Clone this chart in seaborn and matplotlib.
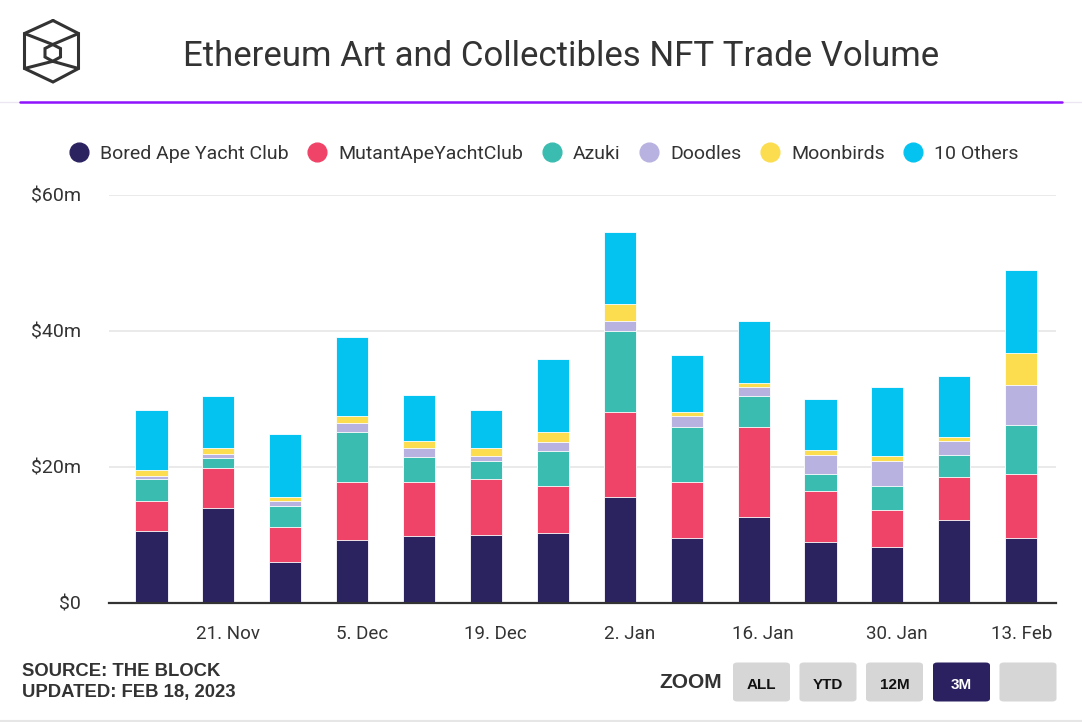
import matplotlib
matplotlib.use("Agg")
import matplotlib.pyplot as plt
from matplotlib.lines import Line2D
from matplotlib.patches import FancyBboxPatch
from matplotlib.transforms import ScaledTranslation
import seaborn as sns
import pandas as pd
import numpy as np

# ---------------- data ----------------
weeks = ["2022-11-13", "2022-11-20", "2022-11-27", "2022-12-04", "2022-12-11",
         "2022-12-18", "2022-12-25", "2023-01-01", "2023-01-08", "2023-01-15",
         "2023-01-22", "2023-01-29", "2023-02-05", "2023-02-12"]
series_names = ["Bored Ape Yacht Club", "MutantApeYachtClub", "Azuki",
                "Doodles", "Moonbirds", "10 Others"]
bayc      = [10.5, 14.0, 6.0, 9.2, 9.8, 10.0, 10.25, 15.5, 9.5, 12.65, 8.9, 8.15, 12.1, 9.5]
mayc      = [4.5, 5.8, 5.1, 8.5, 7.9, 8.2, 6.9, 12.5, 8.2, 13.25, 7.5, 5.55, 6.4, 9.5]
azuki     = [3.2, 1.5, 3.1, 7.4, 3.7, 2.6, 5.2, 11.9, 8.2, 4.45, 2.6, 3.4, 3.2, 7.1]
doodles   = [0.5, 0.6, 0.8, 1.3, 1.3, 0.8, 1.3, 1.6, 1.6, 1.35, 2.7, 3.7, 2.1, 5.9]
moonbirds = [0.8, 0.8, 0.5, 1.1, 1.1, 1.1, 1.4, 2.4, 0.5, 0.6, 0.8, 0.8, 0.5, 4.7]
others    = [8.8, 7.7, 9.3, 11.6, 6.8, 5.6, 10.8, 10.6, 8.5, 9.2, 7.4, 10.1, 9.0, 12.2]
tick_dates = ["2022-11-21", "2022-12-05", "2022-12-19", "2023-01-02",
              "2023-01-16", "2023-01-30", "2023-02-13"]
tick_labels = ["21. Nov", "5. Dec", "19. Dec", "2. Jan", "16. Jan", "30. Jan", "13. Feb"]
y_ticks = [0, 20, 40, 60]
y_tick_labels = ["$0", "$20m", "$40m", "$60m"]
colors = ["#2b2260", "#f04368", "#3bbcb0", "#b8b2e0", "#fcdd4f", "#05c3f0"]

# ---------------- build frame ----------------
values = [bayc, mayc, azuki, doodles, moonbirds, others]
wk = pd.to_datetime(weeks)
wk_idx = np.arange(len(weeks))
cum = np.cumsum(np.array(values), axis=0)
frames = []
for name, c in zip(series_names, cum):
    frames.append(pd.DataFrame({"week": wk_idx, "cum": c, "series": name}))
df = pd.concat(frames, ignore_index=True)

# ---------------- figure ----------------
sns.set_theme(style="white")
plt.rcParams["font.family"] = ["Roboto", "DejaVu Sans"]
W, H = 1082, 722
fig = plt.figure(figsize=(W / 100, H / 100), dpi=100)
fig.patch.set_facecolor("white")

def px(x, y):
    return x / W, 1 - y / H

ax_left, ax_right, ax_top, ax_bot = 109, 1056, 194.7, 602.7
ax = fig.add_axes([ax_left / W, 1 - ax_bot / H, (ax_right - ax_left) / W, (ax_bot - ax_top) / H])

# draw stacked bars from top layer down
for name, color in reversed(list(zip(series_names, colors))):
    sub = df[df["series"] == name]
    sns.barplot(data=sub, x="week", y="cum", color=color, width=0.48,
                errorbar=None, ax=ax, native_scale=True,
                edgecolor="white", linewidth=0.6, saturation=1)

ax.set_xlim(-0.635, 13.52)
ax.set_ylim(0, 60)
ax.set_xlabel("")
ax.set_ylabel("")
tick_pos = [(pd.Timestamp(d) - wk[0]).days / 7 for d in tick_dates]
ax.set_xticks(tick_pos)
ax.set_xticklabels(tick_labels, fontsize=13.5, color="#333333")
ax.set_yticks(y_ticks)
ax.set_yticklabels(y_tick_labels, fontsize=14, color="#333333")
ax.tick_params(axis="x", length=0, pad=16)
ax.tick_params(axis="y", length=0, pad=20)
# last label kept inside the plot area, as in the reference
last = ax.get_xticklabels()[-1]
last.set_transform(last.get_transform() + ScaledTranslation(-9 / 100, 0, fig.dpi_scale_trans))
ax.grid(axis="y", color="#e6e6e6", linewidth=1.2)
ax.set_axisbelow(True)
for s in ["left", "right", "top"]:
    ax.spines[s].set_visible(False)
ax.spines["bottom"].set_color("#333333")
ax.spines["bottom"].set_linewidth(1.6)
ax.set_facecolor("white")

# ---------------- legend ----------------
handles = [Line2D([0], [0], marker="o", linestyle="none", markersize=13.5,
                  markerfacecolor=c, markeredgecolor=c) for c in colors]
fig.legend(handles, series_names, loc="center", bbox_to_anchor=px(544, 154),
           ncol=6, frameon=False, fontsize=14, handlelength=1.0,
           handletextpad=0.6, columnspacing=0.95, labelcolor="#333333")

# ---------------- title & header ----------------
fig.text(*px(561, 56), "Ethereum Art and Collectibles NFT Trade Volume",
         ha="center", va="center", fontsize=25, color="#333333")
fig.add_artist(Line2D([0, 1], [1 - 102 / H] * 2, color="#ece6f2", linewidth=1))
fig.add_artist(Line2D([20 / W, 1062 / W], [1 - 102 / H] * 2, color="#9013fe", linewidth=1.8))

# logo (cube outline)
outer = [(53, 20.5), (78.5, 33.5), (78.5, 68.5), (53, 82), (24.5, 68.5), (24.5, 33.5), (53, 20.5)]
inner = [(52.7, 44.5), (60.5, 48.5), (60.5, 57), (52.7, 61.3), (45, 57), (45, 48.5), (52.7, 44.5)]
def draw_poly(pts):
    xs = [p[0] / W for p in pts]
    ys = [1 - p[1] / H for p in pts]
    fig.add_artist(Line2D(xs, ys, color="#333333", linewidth=2.2, solid_joinstyle="miter"))
draw_poly(outer)
draw_poly(inner)
draw_poly([(24.5, 33.5), (52.7, 44.5), (78.5, 33.5)])
draw_poly([(24.5, 68.5), (52.7, 61.3), (78.5, 68.5)])

# ---------------- footer ----------------
fig.text(*px(22, 672), "SOURCE: THE BLOCK", ha="left", va="center", fontsize=13.3,
         fontweight="bold", color="#333333", family="Liberation Sans")
fig.text(*px(22, 692), "UPDATED: FEB 18, 2023", ha="left", va="center", fontsize=13.3,
         fontweight="bold", color="#333333", family="Liberation Sans")
fig.text(*px(722, 682), "ZOOM", ha="right", va="center", fontsize=15,
         fontweight="bold", color="#333333", family="Liberation Sans")
buttons = [("ALL", 733, "#d6d6d6", "#111111"), ("YTD", 799.5, "#d6d6d6", "#111111"),
           ("12M", 866, "#d6d6d6", "#111111"), ("3M", 933, "#2b2160", "#ffffff"),
           ("", 999.5, "#d6d6d6", "#111111")]
for label, x0, fc, tc in buttons:
    bx, by = px(x0, 701.5)
    fig.add_artist(FancyBboxPatch((bx, by), 57 / W, 39 / H,
                                  boxstyle="round,pad=0,rounding_size=0.004",
                                  facecolor=fc, edgecolor="none",
                                  transform=fig.transFigure))
    if label:
        fig.text(*px(x0 + 28.5, 685), label, ha="center", va="center", fontsize=11,
                 fontweight="bold", color=tc, family="Liberation Sans")
fig.add_artist(Line2D([0, 1], [1 - 720.5 / H] * 2, color="#e6e6e6", linewidth=1.5))

fig.savefig("out.png", dpi=100, facecolor="white")
